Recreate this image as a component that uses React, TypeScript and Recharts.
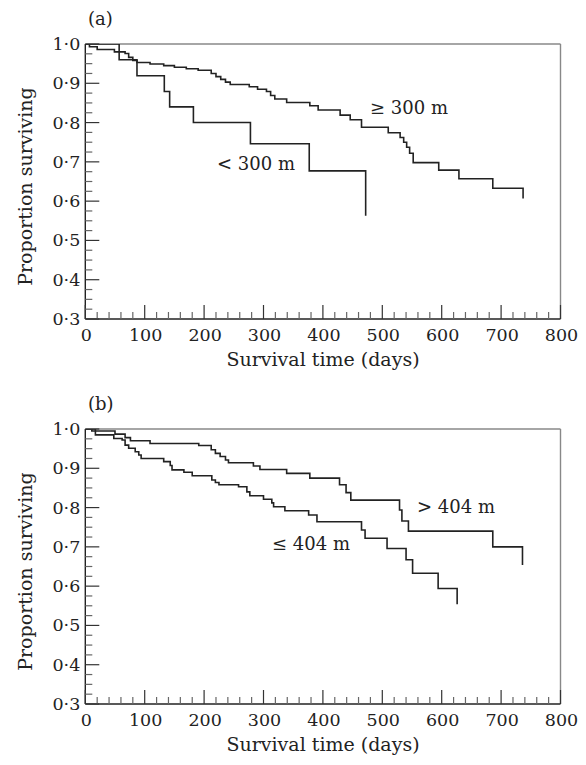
import React from 'react';
import { LineChart, Line, XAxis, YAxis, ReferenceLine } from 'recharts';

// ---------- data ----------
// Panel (a): distance walked >= 300 m
const timesAHigh = [0, 7, 20, 49, 67, 73, 80, 87, 109, 132, 150, 170, 190, 212, 220, 228, 236, 244, 276, 290, 305, 312, 319, 339, 378, 392, 429, 446, 465, 510, 530, 536, 541, 546, 552, 595, 629, 686, 737];
const survAHigh = [1.0, 0.993, 0.986, 0.98, 0.976, 0.966, 0.958, 0.953, 0.949, 0.945, 0.941, 0.937, 0.933, 0.925, 0.917, 0.91, 0.903, 0.897, 0.891, 0.885, 0.879, 0.869, 0.86, 0.851, 0.843, 0.832, 0.819, 0.807, 0.788, 0.774, 0.762, 0.75, 0.737, 0.722, 0.698, 0.679, 0.657, 0.633, 0.607];
// Panel (a): distance walked < 300 m
const timesALow = [0, 57, 87, 133, 142, 182, 278, 377, 472];
const survALow = [1.0, 0.96, 0.919, 0.879, 0.84, 0.8, 0.746, 0.677, 0.563];

// Panel (b): distance walked > 404 m
const timesBHigh = [0, 11, 50, 67, 76, 109, 191, 212, 219, 227, 236, 241, 283, 294, 339, 378, 428, 439, 447, 529, 533, 544, 686, 736];
const survBHigh = [1.0, 0.995, 0.987, 0.978, 0.97, 0.963, 0.958, 0.947, 0.938, 0.93, 0.921, 0.914, 0.906, 0.897, 0.887, 0.875, 0.858, 0.838, 0.819, 0.794, 0.766, 0.74, 0.7, 0.654];
// Panel (b): distance walked <= 404 m
const timesBLow = [0, 17, 48, 62, 67, 73, 84, 90, 94, 132, 143, 146, 166, 180, 213, 219, 225, 258, 272, 277, 300, 314, 317, 336, 376, 390, 465, 471, 508, 540, 551, 594, 626];
const survBLow = [1.0, 0.985, 0.976, 0.972, 0.959, 0.951, 0.942, 0.934, 0.925, 0.917, 0.907, 0.896, 0.89, 0.881, 0.87, 0.864, 0.858, 0.853, 0.84, 0.83, 0.821, 0.812, 0.802, 0.792, 0.781, 0.764, 0.743, 0.722, 0.696, 0.667, 0.633, 0.594, 0.554];

// ticks (major every 100 days / 0.1, minor between)
const xTicks = [0, 20, 40, 60, 80, 100, 120, 140, 160, 180, 200, 220, 240, 260, 280, 300, 320, 340, 360, 380, 400, 420, 440, 460, 480, 500, 520, 540, 560, 580, 600, 620, 640, 660, 680, 700, 720, 740, 760, 780, 800];
const yTicks = [0.3, 0.325, 0.35, 0.375, 0.4, 0.425, 0.45, 0.475, 0.5, 0.525, 0.55, 0.575, 0.6, 0.625, 0.65, 0.675, 0.7, 0.725, 0.75, 0.775, 0.8, 0.825, 0.85, 0.875, 0.9, 0.925, 0.95, 0.975, 1.0];

const toPoints = (times: number[], surv: number[]) => times.map((t, i) => ({ t, s: surv[i] }));

const FONT = '"DejaVu Serif", serif';
const FS_TICK = 17.5;
const FS_NOTE = 18;
const FS_TITLE = 19;
const INK = '#222';

const XTick = (props: any) => {
  const { x, y, payload } = props;
  const v = payload.value;
  const major = Math.abs(v % 100) < 1e-6;
  return (
    <g>
      <line x1={x} x2={x} y1={y} y2={y - (major ? 14 : 7)} stroke={major ? '#333' : '#666'} strokeWidth={1.2} />
      {major && (
        <text x={x + 1} y={y + 22} textAnchor="middle" fontFamily={FONT} fontSize={FS_TICK} fill={INK}>
          {String(v)}
        </text>
      )}
    </g>
  );
};

const YTick = (props: any) => {
  const { x, y, payload } = props;
  const v = payload.value;
  const major = Math.abs(v * 10 - Math.round(v * 10)) < 1e-6;
  return (
    <g>
      <line x1={x} x2={x + (major ? 14 : 7)} y1={y} y2={y} stroke={major ? '#333' : '#666'} strokeWidth={1.2} />
      {major && (
        <text x={x - 5} y={y + 6} textAnchor="end" fontFamily={FONT} fontSize={FS_TICK} fill={INK}>
          {v.toFixed(1).replace('.', '\u00B7')}
        </text>
      )}
    </g>
  );
};

type Note = { text: string; left: number; baseline: number };

const textStyle = (left: number, baseline: number, fs: number): React.CSSProperties => ({
  position: 'absolute',
  left,
  top: baseline - fs * 0.846,
  fontFamily: FONT,
  fontSize: fs,
  lineHeight: 1,
  whiteSpace: 'nowrap',
  color: INK,
});

const Panel = ({ top, tag, high, low, notes }: { top: number; tag: string; high: any[]; low: any[]; notes: Note[] }) => (
  <div style={{ position: 'absolute', left: 0, top, width: 570, height: 380 }}>
    <LineChart width={570} height={380} margin={{ top: 36, right: 17.5, bottom: 39, left: 37.3 }}>
      <XAxis
        type="number"
        dataKey="t"
        domain={[0, 800]}
        ticks={xTicks}
        interval={0}
        height={30}
        tickSize={0}
        tickMargin={0}
        axisLine={{ stroke: '#222', strokeWidth: 1.4 }}
        tickLine={false}
        tick={<XTick />}
        allowDataOverflow
      />
      <YAxis
        type="number"
        dataKey="s"
        domain={[0.3, 1.0]}
        ticks={yTicks}
        interval={0}
        width={40}
        tickSize={0}
        tickMargin={0}
        axisLine={{ stroke: '#222', strokeWidth: 1.4 }}
        tickLine={false}
        tick={<YTick />}
        allowDataOverflow
      />
      <ReferenceLine y={1} stroke="#888" strokeWidth={1.4} />
      <ReferenceLine x={800} stroke="#888" strokeWidth={1.4} />
      <Line data={high} dataKey="s" type="stepAfter" stroke={INK} strokeWidth={1.6} dot={false} isAnimationActive={false} />
      <Line data={low} dataKey="s" type="stepAfter" stroke={INK} strokeWidth={1.6} dot={false} isAnimationActive={false} />
    </LineChart>
    <div style={textStyle(80, 17, FS_NOTE)}>{tag}</div>
    {notes.map((n) => (
      <div key={n.text} style={textStyle(n.left, n.baseline, FS_NOTE)}>{n.text}</div>
    ))}
    <div
      style={{
        position: 'absolute',
        left: 17 - 125,
        top: 178 - FS_TITLE / 2,
        width: 250,
        textAlign: 'center',
        fontFamily: FONT,
        fontSize: FS_TITLE,
        lineHeight: 1,
        color: INK,
        transform: 'rotate(-90deg)',
      }}
    >
      Proportion surviving
    </div>
    <div
      style={{
        position: 'absolute',
        left: 315 - 150,
        top: 358 - FS_TITLE * 0.846,
        width: 300,
        textAlign: 'center',
        fontFamily: FONT,
        fontSize: FS_TITLE,
        lineHeight: 1,
        color: INK,
      }}
    >
      Survival time (days)
    </div>
  </div>
);

export default function App() {
  return (
    <div style={{ position: 'relative', width: 578, height: 757, background: '#fff' }}>
      <Panel
        top={0}
        tag="(a)"
        high={toPoints(timesAHigh, survAHigh)}
        low={toPoints(timesALow, survALow)}
        notes={[
          { text: '\u2265 300 m', left: 362, baseline: 106 },
          { text: '< 300 m', left: 209, baseline: 162 },
        ]}
      />
      <Panel
        top={385}
        tag="(b)"
        high={toPoints(timesBHigh, survBHigh)}
        low={toPoints(timesBLow, survBLow)}
        notes={[
          { text: '> 404 m', left: 409, baseline: 120 },
          { text: '\u2264 404 m', left: 264, baseline: 157 },
        ]}
      />
    </div>
  );
}
